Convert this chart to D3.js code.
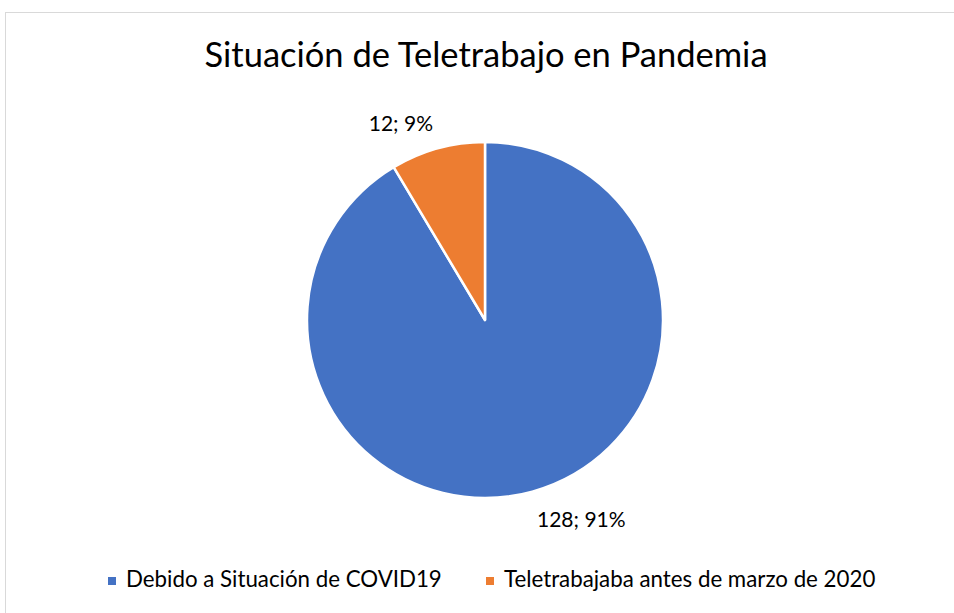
<!DOCTYPE html>
<html>
<head>
<meta charset="utf-8">
<script src="https://cdn.jsdelivr.net/npm/d3@7"></script>
<style>
body { margin: 0; background: #fff; }
text { font-family: Lato, "Open Sans", sans-serif; fill: #000; }
</style>
</head>
<body>
<svg id="chart" width="954" height="613"></svg>
<script>
var title = "Situación de Teletrabajo en Pandemia";
var categories = ["Debido a Situación de COVID19", "Teletrabajaba antes de marzo de 2020"];
var values = [128, 12];
var percents = ["91%", "9%"];
var colors = ["#4472C4", "#ED7D31"];

var svg = d3.select("#chart");
var width = +svg.attr("width");
var height = +svg.attr("height");

// chart frame (runs off right/bottom like the source image)
svg.append("rect").attr("x", 5.5).attr("y", 12.5).attr("width", width + 10).attr("height", height + 10)
    .attr("fill", "none").attr("stroke", "#d9d9d9").attr("stroke-width", 1);

svg.append("text").attr("x", 486).attr("y", 67).attr("text-anchor", "middle")
    .style("font-size", "34.5px").text(title);

var cx = 485, cy = 320, radius = 178;
var g = svg.append("g").attr("transform", "translate(" + cx + "," + cy + ")");

var pie = d3.pie().sort(null).value(function (d) { return d; });
var arcs = pie(values);
var arc = d3.arc().innerRadius(0).outerRadius(radius);

g.selectAll("path").data(arcs).enter().append("path")
    .attr("d", arc)
    .attr("fill", function (d, i) { return colors[i]; })
    .attr("stroke", "#fff").attr("stroke-width", 2.5).attr("stroke-linejoin", "round");

// outside-end labels
var labelArc = d3.arc().innerRadius(radius + 10).outerRadius(radius + 10);
g.selectAll("text.lbl").data(arcs).enter().append("text")
    .attr("class", "lbl")
    .each(function (d, i) {
        var p = labelArc.centroid(d);
        var mid = (d.startAngle + d.endAngle) / 2;
        var up = Math.cos(mid) > 0;
        d3.select(this)
            .attr("x", p[0] + (Math.sin(mid) > 0 ? 2 : -2))
            .attr("y", up ? p[1] - 8 : p[1] + 26)
            .attr("text-anchor", Math.sin(mid) > 0 ? "start" : "end");
    })
    .style("font-size", "21px")
    .text(function (d, i) { return values[i] + "; " + percents[i]; });

// legend
var legendX = [108, 486];
var legend = svg.selectAll("g.legend").data(categories).enter().append("g")
    .attr("class", "legend")
    .attr("transform", function (d, i) { return "translate(" + legendX[i] + ",577)"; });
legend.append("rect").attr("width", 8).attr("height", 8)
    .attr("fill", function (d, i) { return colors[i]; });
legend.append("text").attr("x", 18).attr("y", 10)
    .style("font-size", "22.3px").text(function (d) { return d; });
</script>
</body>
</html>
